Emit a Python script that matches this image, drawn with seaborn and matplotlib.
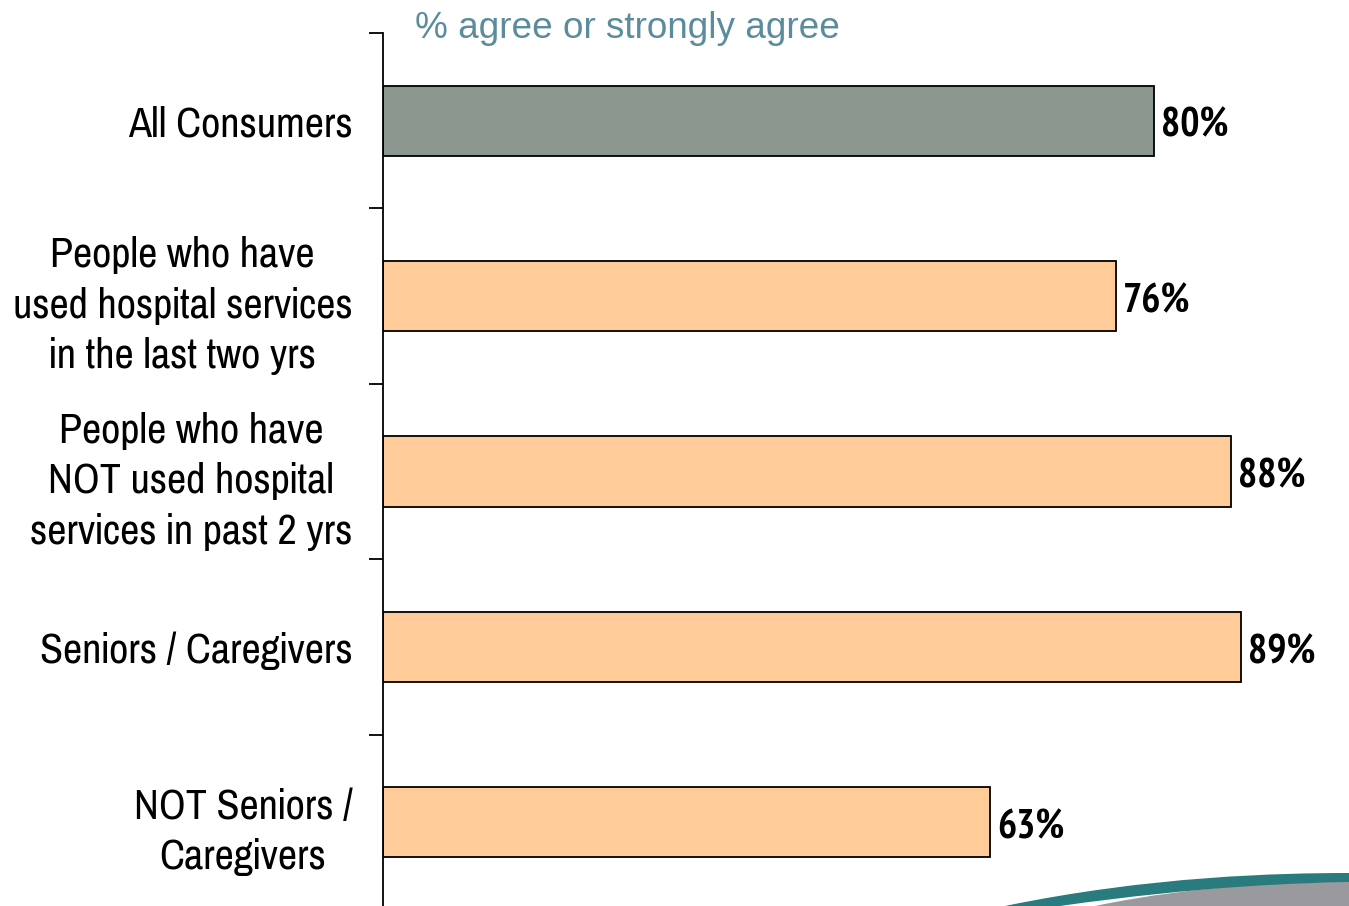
import matplotlib
matplotlib.use("Agg")
import matplotlib.pyplot as plt
from matplotlib.path import Path
from matplotlib.patches import PathPatch
import seaborn as sns
import pandas as pd

categories = [
    "All Consumers",
    "People who have\nused hospital services\nin the last two yrs",
    "People who have\nNOT used hospital\nservices in past 2 yrs",
    "Seniors / Caregivers",
    "NOT Seniors /\nCaregivers",
]
values = [80, 76, 88, 89, 63]
bar_colors = ["#8C978F", "#FFCC99", "#FFCC99", "#FFCC99", "#FFCC99"]
title_text = "% agree or strongly agree"

sns.set_theme(style="white")
plt.rcParams["font.family"] = ["Pragati Narrow", "DejaVu Sans"]

W, H = 1349, 906
fig = plt.figure(figsize=(W / 100, H / 100), dpi=100)
ax = fig.add_axes([383 / W, -4 / H, (1347 - 383) / W, 877 / H])

df = pd.DataFrame({"group": categories, "pct": values})
sns.barplot(data=df, x="pct", y="group", hue="group", palette=bar_colors,
            legend=False, width=0.4, edgecolor="black", linewidth=1.3,
            saturation=1, orient="h", ax=ax)

ax.set_xlim(0, 100)
ax.set_ylim(4.5, -0.5)
ax.set_xlabel("")
ax.set_ylabel("")
ax.set_xticks([])

for s in ["top", "right", "bottom"]:
    ax.spines[s].set_visible(False)
ax.spines["left"].set_color("black")
ax.spines["left"].set_linewidth(1.3)

ax.set_yticks(range(len(categories)))
ax.set_yticklabels(categories)
ax.set_yticks([i - 0.5 for i in range(len(categories) + 1)], minor=True)
ax.tick_params(axis="y", which="major", length=0, pad=22, labelsize=33,
               labelcolor="black")
ax.tick_params(axis="y", which="minor", length=10, width=1.3, color="black",
               direction="out", left=True)
for lab in ax.get_yticklabels():
    lab.set_multialignment("center")
    lab.set_linespacing(1.4)
    lab.set_verticalalignment("center_baseline")

for i, v in enumerate(values):
    ax.annotate(f"{v}%", xy=(v, i), xytext=(5, -4), textcoords="offset points",
                ha="left", va="center", fontsize=29, fontweight="bold",
                color="black", family=["PT Sans Narrow", "DejaVu Sans"])

fig.text(415 / W, 1 - 28 / H, title_text, ha="left", va="center",
         fontsize=26.6, color="#5B8C9C", family=["Liberation Sans", "DejaVu Sans"])

# decorative swoosh in the lower right corner
grey = Path([(1095 / W, 0), (1200 / W, 22 / H), (1300 / W, 24 / H),
             (1.0, 24 / H), (1.0, 0), (1095 / W, 0)],
            [Path.MOVETO, Path.CURVE4, Path.CURVE4, Path.CURVE4,
             Path.LINETO, Path.CLOSEPOLY])
fig.patches.append(PathPatch(grey, transform=fig.transFigure,
                             facecolor="#9A9A9E", edgecolor="none"))
teal = Path([(1005 / W, 0), (1150 / W, 30 / H), (1280 / W, 33 / H),
             (1.0, 33 / H), (1.0, 24 / H), (1300 / W, 23 / H),
             (1200 / W, 20 / H), (1060 / W, 0), (1005 / W, 0)],
            [Path.MOVETO, Path.CURVE4, Path.CURVE4, Path.CURVE4,
             Path.LINETO, Path.CURVE4, Path.CURVE4, Path.CURVE4,
             Path.CLOSEPOLY])
fig.patches.append(PathPatch(teal, transform=fig.transFigure,
                             facecolor="#2A7B7E", edgecolor="none"))

fig.savefig("out.png", dpi=100)
